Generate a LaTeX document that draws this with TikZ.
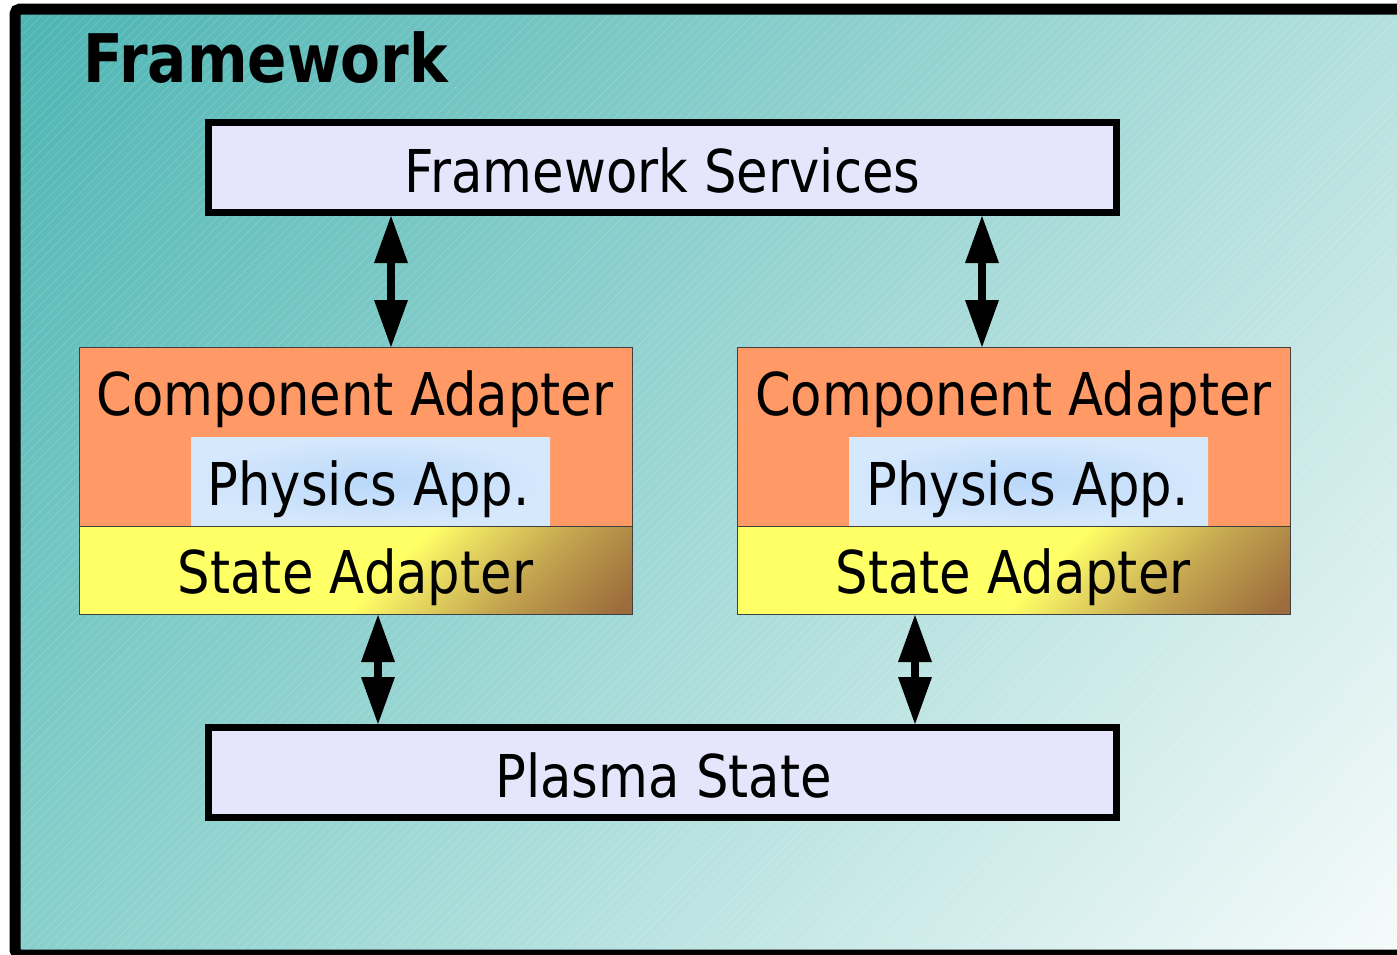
\documentclass[tikz,border=0pt]{standalone}
\usepackage{fontspec}
\setmainfont{DejaVu Sans}[FakeStretch=0.868]
\usetikzlibrary{arrows.meta,calc,shadings}
\definecolor{bgTL}{HTML}{4DB5B3}
\definecolor{bgTR}{HTML}{B3E0DD}
\definecolor{bgBL}{HTML}{88D0CC}
\definecolor{bgBR}{HTML}{F6FBFB}
\definecolor{lav}{HTML}{E5E5FC}
\definecolor{orng}{HTML}{FF9966}
\definecolor{syel}{HTML}{FFFF66}
\definecolor{smid}{HTML}{E6D860}
\definecolor{sgold}{HTML}{C4A550}
\definecolor{sbrown}{HTML}{9C6C3C}
\definecolor{pin}{HTML}{BAD8FA}
\definecolor{pout}{HTML}{D6E8FC}
\definecolor{thin}{HTML}{404040}
\pgfdeclarehorizontalshading{stateshade}{100bp}{color(0bp)=(syel); color(52bp)=(syel); color(55.5bp)=(smid); color(60.5bp)=(sgold); color(68bp)=(sbrown); color(100bp)=(sbrown)}
\tikzset{
  bigbox/.style={draw=black, line width=7pt, fill=lav, inner sep=0pt, minimum width=908pt, minimum height=90pt},
  compbox/.style={draw=thin, line width=1pt, fill=orng, inner sep=0pt, minimum width=553pt, minimum height=267pt},
  statebox/.style={draw=thin, line width=1pt, inner sep=0pt, minimum width=553pt, minimum height=88.5pt,
    path picture={\shade[shading=stateshade, shading angle=-45] ($(path picture bounding box.center)+(-300,-300)$) rectangle ($(path picture bounding box.center)+(300,300)$);}},
  physbox/.style={inner sep=0pt, minimum width=359pt, minimum height=89pt, inner color=pin, outer color=pout},
  lbl/.style={anchor=base, inner sep=0pt, font=\fontsize{59}{60}\selectfont},
  dbl/.style={line width=8pt, {Triangle[length=47pt, width=34pt, line width=0pt]}-{Triangle[length=47pt, width=34pt, line width=0pt]}}
}
\begin{document}
\begin{tikzpicture}[x=1pt,y=-1pt]
\useasboundingbox (0,0) rectangle (1397,954);
% background
\shade[upper left=bgTL, upper right=bgTR, lower left=bgBL, lower right=bgBR] (15,9) rectangle (1397,954);
\begin{scope}
\clip (15,9) rectangle (1397,954);
\foreach \i in {-960,-951,...,1400} \draw[white, opacity=0.2, line width=0.6pt] (\i,954) -- (\i+954,0);
\end{scope}
\draw[line width=11pt, rounded corners=5pt] (15,9) rectangle (1425,955);
\node[anchor=base west, inner sep=0pt, font=\fontsize{67}{68}\selectfont\bfseries] (title) at (83,82) {Framework};

% top and bottom boxes
\node[bigbox] (fs) at (662.5,167.5) {};
\node[lbl] (fst) at (662.5,192) {Framework Services};
\node[bigbox] (ps) at (662.5,772.5) {};
\node[lbl] (pst) at (663.5,797) {Plasma State};

% left component
\node[compbox] (lc) at (356,481) {};
\node[lbl] (lct) at (355,415) {Component Adapter};
\node[physbox] (lp) at (370.5,481.5) {};
\node[lbl] (lpt) at (368.5,505) {Physics App.};
\node[statebox] (ls) at (356,570.25) {};
\node[lbl] (lst) at (355.5,593) {State Adapter};

% right component
\node[compbox] (rc) at (1014,481) {};
\node[lbl] (rct) at (1013.5,415) {Component Adapter};
\node[physbox] (rp) at (1028.5,481.5) {};
\node[lbl] (rpt) at (1027.5,505) {Physics App.};
\node[statebox] (rs) at (1014,570.25) {};
\node[lbl] (rst) at (1013,593) {State Adapter};

% arrows
\coordinate (a1) at (391,0);
\coordinate (a2) at (982,0);
\coordinate (a3) at (378,0);
\coordinate (a4) at (915,0);
\draw[dbl] (fs.south -| a1) -- (lc.north -| a1);
\draw[dbl] (fs.south -| a2) -- (rc.north -| a2);
\draw[dbl] (ls.south -| a3) -- (ps.north -| a3);
\draw[dbl] (rs.south -| a4) -- (ps.north -| a4);
\end{tikzpicture}
\end{document}
